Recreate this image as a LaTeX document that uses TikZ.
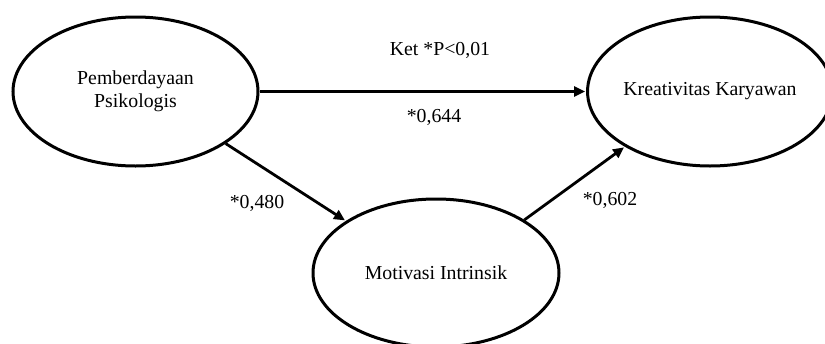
\documentclass[tikz,border=0pt]{standalone}
\usepackage{fontspec}
\setmainfont{Liberation Serif}
\usetikzlibrary{shapes.geometric,arrows.meta}
\begin{document}
\begin{tikzpicture}[x=1pt,y=-1pt,
  latent/.style={ellipse,draw,line width=3pt,inner sep=0pt,align=center,font=\fontsize{19.8}{23}\selectfont},
  path/.style={line width=2.8pt,-{Triangle[length=11pt,width=10pt]},shorten >=1pt},
  lbl/.style={font=\fontsize{19.8}{23}\selectfont,inner sep=0pt}]
\useasboundingbox (0,0) rectangle (825,343);
\node[latent,minimum width=245pt,minimum height=149pt] (pp) at (135.5,91.5) {Pemberdayaan\\Psikologis};
\node[latent,minimum width=236pt,minimum height=149pt] (kk) at (710,91.5) {Kreativitas Karyawan};
\node[latent,minimum width=246pt,minimum height=148pt] (mi) at (436,273) {Motivasi Intrinsik};
\draw[path] (pp.east) -- (pp.east -| kk.west);
\draw[path] (pp.-30) -- (mi.150);
\draw[path] (mi.31) -- (kk.213);
\node[lbl] (ket) at (440,50) {Ket *P<0,01};
\node[lbl] (c1) at (434,117) {*0,644};
\node[lbl] (c2) at (257,203) {*0,480};
\node[lbl] (c3) at (610,200) {*0,602};
\end{tikzpicture}
\end{document}
